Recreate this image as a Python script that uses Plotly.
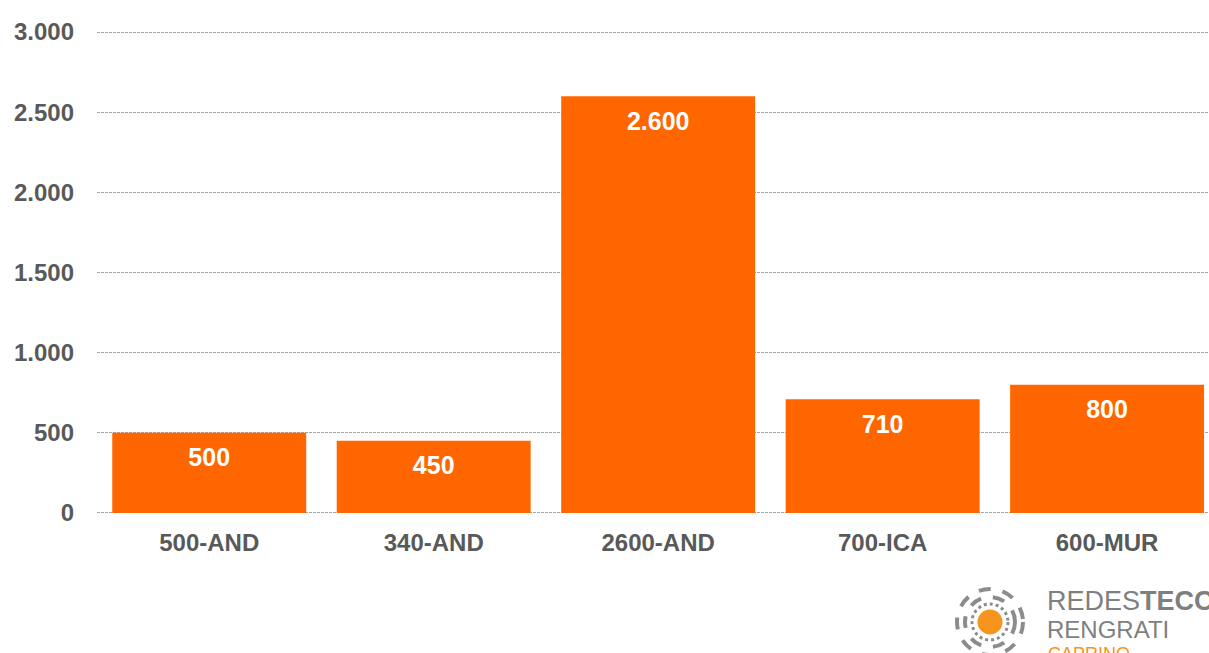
import plotly.graph_objects as go

categories = ["500-AND", "340-AND", "2600-AND", "700-ICA", "600-MUR"]
values = [500, 450, 2600, 710, 800]
tick_vals = [0, 500, 1000, 1500, 2000, 2500, 3000]

W, H = 1209, 653
L, R, T, B = 97, 0, 28, 136
pw = W - L - R
ph = H - T - B

def px(q):
    return (q - L) / pw

def py(p):
    return (H - B - p) / ph

fig = go.Figure()
fig.add_trace(go.Bar(
    x=categories, y=values,
    marker=dict(color="#FF6600", line=dict(width=0)),
    hoverinfo="x+y",
))
fig.add_trace(go.Scatter(
    x=categories, y=values, mode="markers+text",
    marker=dict(size=22, opacity=0),
    texttemplate="%{y:,}", textposition="bottom center",
    textfont=dict(family="Liberation Sans", size=25, color="white", weight="bold"),
    cliponaxis=False, hoverinfo="skip",
))

shapes = []
# logo rings
cx, cy = 990, 622
for r, dash, w in [(33, "dash", 4), (25, "dash", 4), (18, "dot", 3)]:
    shapes.append(dict(type="circle", xref="paper", yref="paper",
                       x0=px(cx - r), x1=px(cx + r), y0=py(cy + r), y1=py(cy - r),
                       line=dict(color="#8C8C8C", width=w, dash=dash)))
shapes.append(dict(type="circle", xref="paper", yref="paper",
                   x0=px(cx - 12.5), x1=px(cx + 12.5), y0=py(cy + 12.5), y1=py(cy - 12.5),
                   fillcolor="#F7941D", line=dict(width=0)))

annotations = [
    dict(text="REDES<b>TECC</b>", xref="paper", yref="paper", x=px(1045), y=py(601),
         xanchor="left", yanchor="middle", showarrow=False,
         font=dict(family="Liberation Sans", size=27, color="#7F7F7F")),
    dict(text="RENGRATI", xref="paper", yref="paper", x=px(1045), y=py(629),
         xanchor="left", yanchor="middle", showarrow=False,
         font=dict(family="Liberation Sans", size=24, color="#7F7F7F")),
    dict(text="CAPRINO", xref="paper", yref="paper", x=px(1046), y=py(654),
         xanchor="left", yanchor="middle", showarrow=False,
         font=dict(family="Liberation Sans", size=18, color="#F7941D")),
]

fig.update_layout(
    width=W, height=H,
    margin=dict(l=L, r=R, t=T, b=B, autoexpand=False),
    plot_bgcolor="white", paper_bgcolor="white",
    separators=",.",
    bargap=0.136,
    showlegend=False,
    shapes=shapes,
    annotations=annotations,
    font=dict(family="Liberation Sans", color="#595959"),
)
fig.update_xaxes(
    range=[-0.5, 4.454], showgrid=False, showline=False, ticks="",
    tickfont=dict(family="Liberation Sans", size=24, color="#595959", weight="bold"),
    automargin=False, ticklabelstandoff=9,
)
fig.update_yaxes(
    range=[-25, 3025], tickvals=tick_vals, tickformat=",d",
    showgrid=True, gridcolor="#A6A6A6", griddash="3px,1px", gridwidth=1,
    zeroline=False, showline=False, ticks="", ticklabelstandoff=22,
    tickfont=dict(family="Liberation Sans", size=24, color="#595959", weight="bold"),
    automargin=False,
)
fig.write_html("out.html", config={"displayModeBar": False},
               post_script="document.body.style.margin='0';document.body.style.overflow='hidden';")
